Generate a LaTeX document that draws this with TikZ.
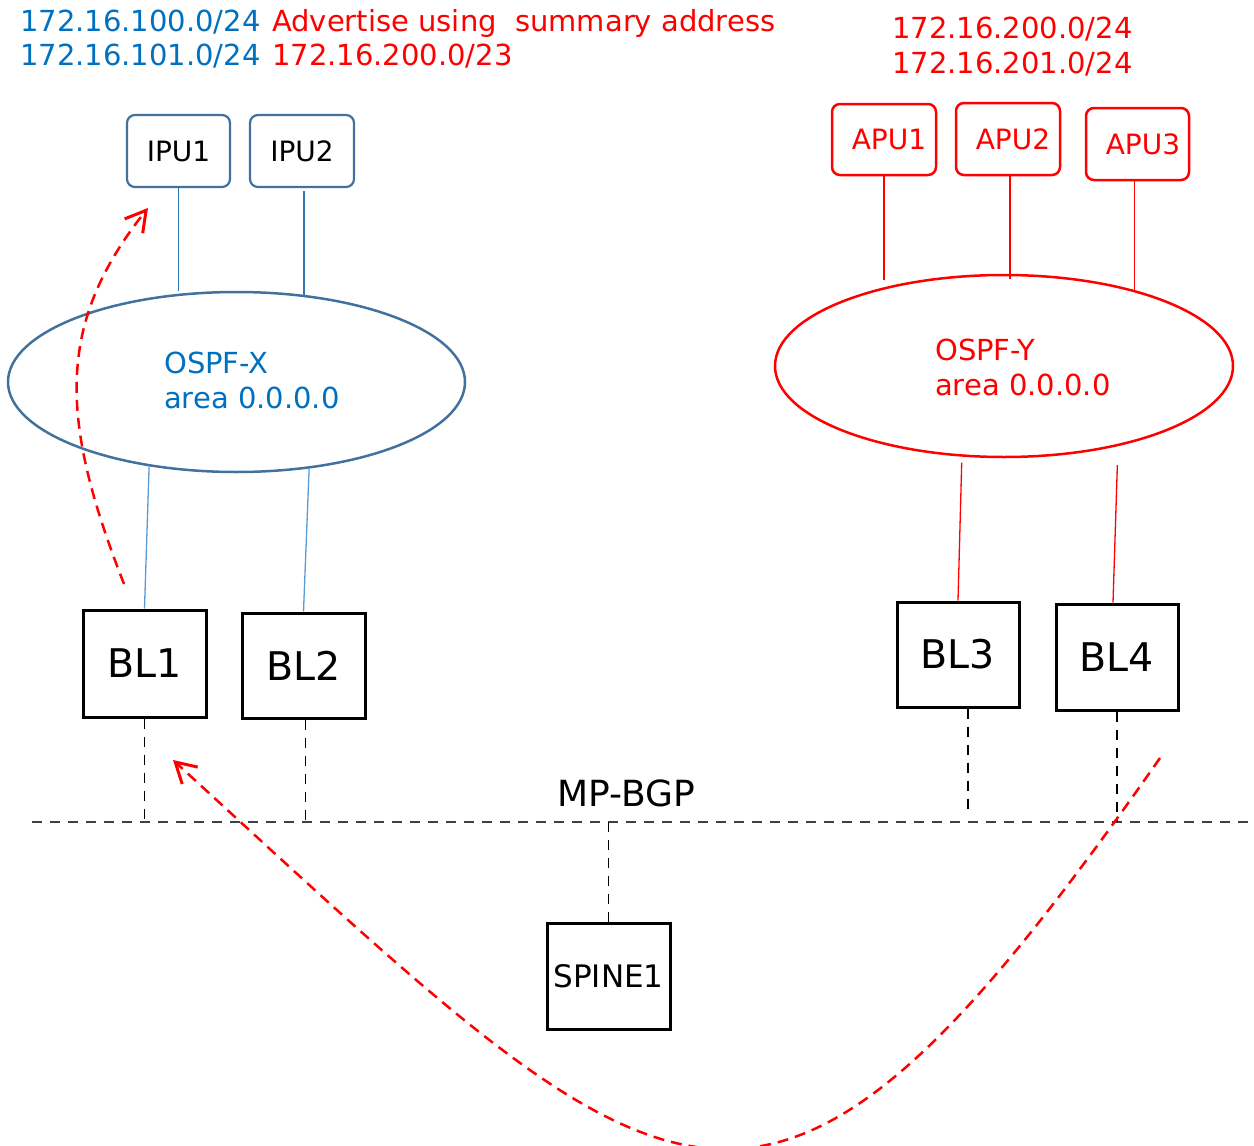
\documentclass[tikz,border=0pt]{standalone}
\usepackage{fontspec}
\setmainfont{DejaVu Sans}
\usetikzlibrary{arrows.meta,shapes.geometric,calc}
\definecolor{ipublue}{HTML}{41719C}
\definecolor{txtblue}{HTML}{0070C0}
\definecolor{linkblue}{HTML}{2E75B6}
\definecolor{lightlink}{HTML}{5B9BD5}
\definecolor{busgray}{HTML}{404040}
\begin{document}
\begin{tikzpicture}[x=1pt,y=-1pt,
  lbl/.style={inner sep=0pt, anchor=base west},
  ftop/.style={font=\fontsize{29}{34}\selectfont},
  ipubox/.style={draw=ipublue, line width=2.2pt, rounded corners=8pt, inner sep=0pt,
    font=\fontsize{28}{32}\selectfont, text=black},
  apubox/.style={draw=red, line width=2.5pt, rounded corners=8pt, inner sep=0pt,
    font=\fontsize{28}{32}\selectfont, text=red},
  blbox/.style={draw=black, line width=3pt, inner sep=0pt, font=\fontsize{39.5}{44}\selectfont},
  spinebox/.style={draw=black, line width=3pt, inner sep=0pt, font=\fontsize{31}{36}\selectfont},
  area/.style={ellipse, inner sep=0pt, line width=2.5pt},
  bluelink/.style={draw=linkblue, line width=1.3pt},
  lightblink/.style={draw=lightlink, line width=1.3pt},
  redlink/.style={draw=red, line width=1.3pt},
  bgpdash/.style={draw=black, line width=1.5pt, dash pattern=on 10pt off 8pt},
  redarrow/.style={draw=red, line width=2.5pt, dash pattern=on 11pt off 7pt,
    -{Straight Barb[length=20pt,width=23pt,line width=3pt]}}
]
\useasboundingbox (0,0) rectangle (1254,1146);

% top texts
\node[lbl, ftop, text=txtblue] (pfx1) at (20,31) {172.16.100.0/24};
\node[lbl, ftop, text=txtblue] (pfx2) at (20,65) {172.16.101.0/24};
\node[lbl, ftop, text=red] (adv1) at (272,31) {Advertise using\ \ summary address};
\node[lbl, ftop, text=red] (adv2) at (272,65) {172.16.200.0/23};
\node[lbl, ftop, text=red] (pfy1) at (892,38) {172.16.200.0/24};
\node[lbl, ftop, text=red] (pfy2) at (892,73) {172.16.201.0/24};

% IPU / APU boxes
\node[ipubox, minimum width=103, minimum height=72] (ipu1) at (178.5,151) {IPU1};
\node[ipubox, minimum width=104, minimum height=72] (ipu2) at (302,151) {IPU2};
\node[apubox, minimum width=104, minimum height=71] (apu1) at (884,139.5) {\hspace*{10pt}APU1};
\node[apubox, minimum width=104, minimum height=72] (apu2) at (1008,139) {\hspace*{10pt}APU2};
\node[apubox, minimum width=103, minimum height=72] (apu3) at (1137.5,144) {\hspace*{11pt}APU3};

% OSPF areas
\node[area, draw=ipublue, minimum width=457, minimum height=180] (ospfx) at (236.5,382) {};
\node[lbl, ftop, text=txtblue] (ospfxa) at (164,373) {OSPF-X};
\node[lbl, ftop, text=txtblue] (ospfxb) at (164,408) {area 0.0.0.0};
\node[area, draw=red, minimum width=458, minimum height=182] (ospfy) at (1004,366) {};
\node[lbl, ftop, text=red] (ospfya) at (935,360) {OSPF-Y};
\node[lbl, ftop, text=red] (ospfyb) at (935,395) {area 0.0.0.0};

% border leaves and spine
\node[blbox, minimum width=123, minimum height=107] (bl1) at (144.5,663.5) {BL1};
\node[blbox, minimum width=123, minimum height=105] (bl2) at (303.5,665.5) {BL2};
\node[blbox, minimum width=122, minimum height=105] (bl3) at (958,654.5) {BL3};
\node[blbox, minimum width=122, minimum height=106] (bl4) at (1117,657) {BL4};
\node[spinebox, minimum width=123, minimum height=106] (spine) at (608.5,976) {SPINE1};

% MP-BGP bus
\coordinate (busL) at (32,822);
\coordinate (busR) at (1250,822);
\draw[bgpdash, draw=busgray] (busL) -- (busR);
\node[inner sep=0pt, anchor=base, font=\fontsize{36}{40}\selectfont] (bgp) at (626.5,806) {MP-BGP};

% links IPU -> OSPF-X
\draw[bluelink] (ipu1.south) -- (ipu1.south |- ospfx.north);
\draw[bluelink] ($(ipu2.south)+(2,3)$) -- ($(ipu2.south |- ospfx.north)+(2,4)$);
% links OSPF-X -> BL
\draw[lightblink] (ospfx.-136) -- (bl1.north);
\draw[lightblink] (ospfx.-50) -- (bl2.north);
% links APU -> OSPF-Y
\draw[redlink] (apu1.south) -- ($(apu1.south |- ospfy.north)+(0,6)$);
\draw[redlink] ($(apu2.south)+(2,0)$) -- ($(apu2.south |- ospfy.north)+(2,5)$);
\draw[redlink] ($(apu3.south)+(-3,0)$) -- ($(apu3.south)+(-3,109)$);
% links OSPF-Y -> BL
\draw[redlink] ($(ospfy.-115)+(0,6)$) -- (bl3.north);
\draw[redlink] ($(ospfy.-35)+(-1,19)$) -- ($(bl4.north)+(-4,0)$);

% BGP drops
\draw[bgpdash] (bl1.south) -- (bl1.south |- busL);
\draw[bgpdash] ($(bl2.south)+(2,0)$) -- ($(bl2.south |- busL)+(2,0)$);
\draw[bgpdash] ($(bl3.south)+(10,0)$) -- ($(bl3.south)+(10,103)$);
\draw[bgpdash] (bl4.south) -- (bl4.south |- busL);
\draw[bgpdash] (spine.north |- busL) -- ($(spine.north)+(0,5)$);

% red advertisement arrows
\coordinate (a1s) at (124,584);
\coordinate (a1e) at (148,208);
\draw[redarrow] (a1s) .. controls (60,420) and (55,325) .. (a1e);
\coordinate (a2s) at (1160,758);
\coordinate (a2e) at (173,760);
\draw[redarrow] (a2s) .. controls (760,1330) and (680,1225) .. (a2e);
\end{tikzpicture}
\end{document}
